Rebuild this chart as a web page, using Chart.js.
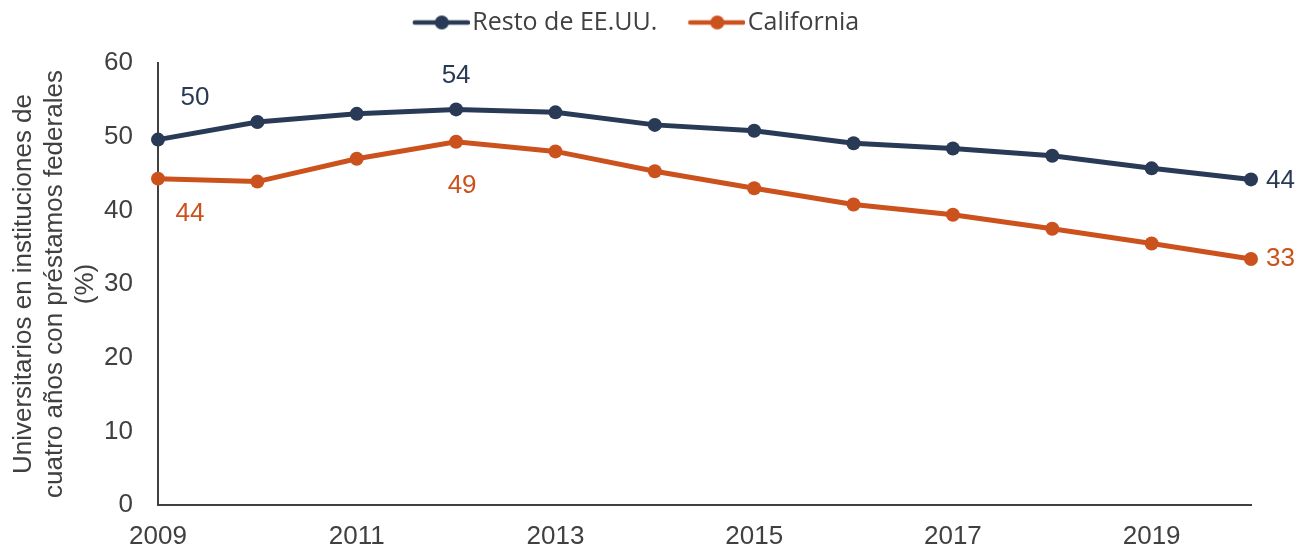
<!DOCTYPE html>
<html>
<head>
<meta charset="utf-8">
<script src="https://cdn.jsdelivr.net/npm/chart.js@4/dist/chart.umd.min.js"></script>
<style>
  html, body { margin: 0; padding: 0; background: #fff; }
  #wrap { width: 1308px; height: 550px; }
</style>
</head>
<body>
<div id="wrap"><canvas id="chart"></canvas></div>
<script>
'use strict';

// data
var years = ['2009', '2010', '2011', '2012', '2013', '2014', '2015', '2016', '2017', '2018', '2019', '2020'];
var restoEEUU = [49.6, 52.0, 53.1, 53.7, 53.3, 51.6, 50.8, 49.1, 48.4, 47.4, 45.7, 44.2];
var california = [44.3, 43.9, 47.0, 49.3, 48.0, 45.3, 43.0, 40.8, 39.4, 37.5, 35.5, 33.4];
var yTicks = [0, 10, 20, 30, 40, 50, 60];
var seriesNames = ['Resto de EE.UU.', 'California'];

var navy = '#293a56';
var orange = '#cc521d';
var textGray = '#404040';

// legend marker: line with a dot, drawn flush right so it sits close to the text
// (empty space on the left widens the gap between the two items)
function legendMarker(color) {
  var c = document.createElement('canvas');
  c.width = 88; c.height = 16;
  var g = c.getContext('2d');
  g.strokeStyle = color;
  g.lineWidth = 4.5;
  g.lineCap = 'round';
  g.beginPath(); g.moveTo(33, 8); g.lineTo(86, 8); g.stroke();
  g.fillStyle = color;
  g.beginPath(); g.arc(60, 8, 7, 0, Math.PI * 2); g.fill();
  return c;
}

// value labels next to selected points
var pointLabels = {
  id: 'pointLabels',
  afterDatasetsDraw: function (chart) {
    var ctx = chart.ctx;
    var spots = [
      { ds: 0, i: 0, dx: 37, dy: -42, align: 'center' },
      { ds: 1, i: 0, dx: 32, dy: 35, align: 'center' },
      { ds: 0, i: 3, dx: 0, dy: -34, align: 'center' },
      { ds: 1, i: 3, dx: 6, dy: 44, align: 'center' },
      { ds: 0, i: 11, dx: 15, dy: 1, align: 'left' },
      { ds: 1, i: 11, dx: 15, dy: 0, align: 'left' }
    ];
    ctx.save();
    ctx.font = '26px "Liberation Sans", Arial, sans-serif';
    ctx.textBaseline = 'middle';
    spots.forEach(function (s) {
      var ds = chart.data.datasets[s.ds];
      var pt = chart.getDatasetMeta(s.ds).data[s.i];
      ctx.fillStyle = ds.borderColor;
      ctx.textAlign = s.align;
      ctx.fillText(Math.round(ds.data[s.i]), pt.x + s.dx, pt.y + s.dy);
    });
    ctx.restore();
  }
};

var tickFont = { family: '"Liberation Sans", Arial, sans-serif', size: 26 };

new Chart(document.getElementById('chart'), {
  type: 'line',
  data: {
    labels: years,
    datasets: [
      {
        label: seriesNames[0],
        data: restoEEUU,
        borderColor: navy,
        backgroundColor: navy,
        borderWidth: 5,
        pointRadius: 7,
        pointHoverRadius: 7,
        pointBorderWidth: 0,
        tension: 0
      },
      {
        label: seriesNames[1],
        data: california,
        borderColor: orange,
        backgroundColor: orange,
        borderWidth: 5,
        pointRadius: 7,
        pointHoverRadius: 7,
        pointBorderWidth: 0,
        tension: 0
      }
    ]
  },
  options: {
    responsive: true,
    maintainAspectRatio: false,
    animation: false,
    layout: { padding: { left: 0, right: 57, top: 0, bottom: 0 } },
    plugins: {
      tooltip: { enabled: false },
      legend: {
        position: 'top',
        labels: {
          color: textGray,
          font: { family: '"Open Sans", sans-serif', size: 25 },
          usePointStyle: true,
          pointStyleWidth: 68,
          padding: 10,
          generateLabels: function (chart) {
            return chart.data.datasets.map(function (ds, i) {
              return {
                text: ds.label,
                pointStyle: legendMarker(ds.borderColor),
                fillStyle: ds.borderColor,
                strokeStyle: ds.borderColor,
                lineWidth: 0,
                fontColor: textGray,
                datasetIndex: i
              };
            });
          }
        }
      },
      // empty subtitle used as a spacer under the legend
      subtitle: {
        display: true,
        text: '',
        weight: 500,
        font: { size: 18, lineHeight: 1 },
        padding: 0
      }
    },
    scales: {
      x: {
        type: 'category',
        offset: false,
        grid: { drawOnChartArea: false, drawTicks: false },
        border: { display: true, color: textGray, width: 2 },
        ticks: {
          color: textGray,
          font: tickFont,
          padding: 16,
          autoSkip: false,
          maxRotation: 0,
          callback: function (v, i) { return i % 2 === 0 ? years[i] : ''; }
        },
        afterFit: function (scale) { scale.height = 45; }
      },
      y: {
        min: yTicks[0],
        max: yTicks[yTicks.length - 1],
        grid: { drawOnChartArea: false, drawTicks: false },
        border: { display: true, color: textGray, width: 2 },
        afterBuildTicks: function (scale) {
          scale.ticks = yTicks.map(function (v) { return { value: v }; });
        },
        ticks: {
          color: textGray,
          font: tickFont,
          padding: 25
        },
        title: {
          display: true,
          text: ['Universitarios en instituciones de', 'cuatro años con préstamos federales', '(%)'],
          color: textGray,
          font: { family: '"Liberation Sans", Arial, sans-serif', size: 26, lineHeight: 1.2 },
          padding: { top: 8, bottom: 0 }
        },
        afterFit: function (scale) { scale.width = 158; }
      }
    }
  },
  plugins: [pointLabels]
});
</script>
</body>
</html>
